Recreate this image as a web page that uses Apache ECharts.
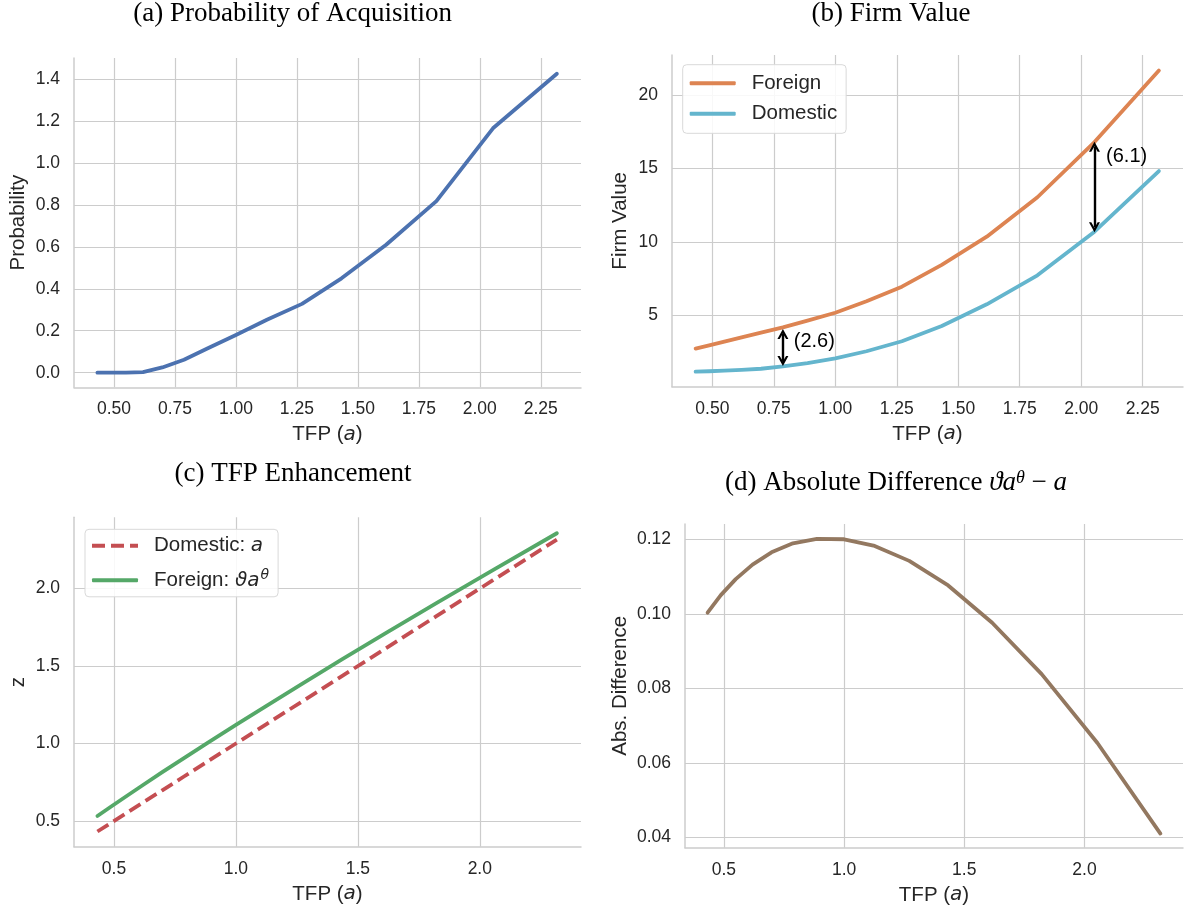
<!DOCTYPE html>
<html><head><meta charset="utf-8">
<script src="https://cdn.jsdelivr.net/npm/echarts@6/dist/echarts.min.js"></script>
<style>html,body{margin:0;padding:0;background:#fff}#c{width:1192px;height:911px}</style>
</head><body><div id="c"></div>
<script>
// ---- data ----
const tfp = [0.432, 0.487, 0.549, 0.619, 0.698, 0.787, 0.887, 1.000, 1.127, 1.271, 1.433, 1.616, 1.822, 2.054, 2.316];
const probability = [0.000, 0.000, 0.000, 0.003, 0.025, 0.062, 0.118, 0.180, 0.252, 0.328, 0.450, 0.610, 0.818, 1.165, 1.425];
const firmForeign = [2.76, 2.98, 3.23, 3.52, 3.85, 4.20, 4.66, 5.20, 5.98, 6.97, 8.45, 10.37, 13.05, 16.80, 21.66];
const firmDomestic = [1.19, 1.22, 1.26, 1.31, 1.39, 1.55, 1.78, 2.09, 2.58, 3.26, 4.30, 5.77, 7.74, 10.71, 14.83];
const zDomestic = [0.432, 0.487, 0.549, 0.619, 0.698, 0.787, 0.887, 1.000, 1.127, 1.271, 1.433, 1.616, 1.822, 2.054, 2.316];
const zForeign = [0.532, 0.592, 0.658, 0.732, 0.815, 0.906, 1.007, 1.120, 1.245, 1.385, 1.541, 1.714, 1.906, 2.119, 2.357];
const absDiff = [0.1003, 0.1050, 0.1093, 0.1132, 0.1165, 0.1189, 0.1201, 0.1200, 0.1182, 0.1142, 0.1076, 0.0976, 0.0838, 0.0653, 0.0410];

const xTicksFine = [0.5, 0.75, 1.0, 1.25, 1.5, 1.75, 2.0, 2.25];
const xTicksCoarse = [0.5, 1.0, 1.5, 2.0];
const yTicksA = [0, 0.2, 0.4, 0.6, 0.8, 1.0, 1.2, 1.4];
const yTicksB = [5, 10, 15, 20];
const yTicksC = [0.5, 1.0, 1.5, 2.0];
const yTicksD = [0.04, 0.06, 0.08, 0.10, 0.12];

const arrowX = [0.787, 2.054];
const arrowTop = [3.76, 16.49];
const arrowBottom = [1.92, 11.01];
const arrowLabels = ['(2.6)', '(6.1)'];
const arrowLabelX = [0.829, 2.099];
const arrowLabelY = [3.23, 15.85];

// ---- styles ----
const SANS = '"Liberation Sans", Arial, sans-serif';
const SERIF = '"Liberation Serif", "Times New Roman", serif';
const MATH = '"DejaVu Sans", sans-serif';
const GRID = '#cccccc';
const TXT = '#262626';
const LW = 3.8;

const pairs = (xs, ys) => xs.map((x, i) => [x, ys[i]]);

function xAxis(gi, min, max, ticks, dec) {
  return {
    type: 'value', gridIndex: gi, min: min, max: max,
    axisLine: { show: true, onZero: false, lineStyle: { color: GRID, width: 1.5 } },
    axisTick: { show: false, customValues: ticks },
    axisLabel: { customValues: ticks, formatter: v => Number(v).toFixed(dec), color: TXT, fontSize: 17.5, fontFamily: SANS, margin: 13 },
    splitLine: { show: true, lineStyle: { color: GRID, width: 1.2 } },
    name: 'TFP ({i|a})', nameLocation: 'middle', nameGap: 37,
    nameTextStyle: { color: TXT, fontSize: 20.5, fontFamily: SANS,
      rich: { i: { fontStyle: 'italic', fontFamily: MATH, fontSize: 20, color: TXT } } }
  };
}
function yAxis(gi, min, max, ticks, dec, name, gap) {
  return {
    type: 'value', gridIndex: gi, min: min, max: max,
    axisLine: { show: true, onZero: false, lineStyle: { color: GRID, width: 1.5 } },
    axisTick: { show: false, customValues: ticks },
    axisLabel: { customValues: ticks, formatter: v => Number(v).toFixed(dec), color: TXT, fontSize: 17.5, fontFamily: SANS, margin: 14 },
    splitLine: { show: true, lineStyle: { color: GRID, width: 1.2 } },
    name: name, nameLocation: 'middle', nameGap: gap, nameRotate: 90,
    nameTextStyle: { color: TXT, fontSize: 20.5, fontFamily: SANS }
  };
}
const lineSeries = (name, gi, xs, ys, color, extra) => Object.assign({
  type: 'line', name: name, xAxisIndex: gi, yAxisIndex: gi,
  data: pairs(xs, ys), symbol: 'none', showSymbol: false, silent: true,
  lineStyle: { color: color, width: LW, cap: 'round', join: 'round' },
  itemStyle: { color: color }
}, extra || {});

const CHEV = 'path://M0,10 L5,0 L10,10 L7.9,10 L5,4.6 L2.1,10 Z';
const ICON_SOLID = 'roundRect';
const ICON_DASH = 'path://M0,0h13v4h-13z M19,0h13v4h-13z M38,0h8v4h-8z';

const titleStyle = { fontFamily: SERIF, fontSize: 27, fontWeight: 'normal', color: '#000',
  rich: {
    m: { fontFamily: SERIF, fontStyle: 'italic', fontSize: 27, color: '#000' },
    sup: { fontFamily: SERIF, fontStyle: 'italic', fontSize: 18, color: '#000', verticalAlign: 'top', padding: [0, 0, 8, 0] },
    n: { fontFamily: SERIF, fontSize: 27, color: '#000' }
  } };
const mkTitle = (text, left, top) => ({ text: text, left: left, top: top, textAlign: 'center', padding: 0, textStyle: titleStyle });

const legendNames = {
  'Domestic: a': 'Domestic: {i|a}',
  'Foreign: ϑa^θ': 'Foreign: {i|ϑa}{sup|θ}'
};

const legendBase = {
  orient: 'vertical', itemWidth: 46, itemHeight: 4,
  backgroundColor: 'rgba(255,255,255,0.85)', borderColor: '#d9d9d9', borderWidth: 1, borderRadius: 4
};

const chart = echarts.init(document.getElementById('c'), null, { renderer: 'canvas' });
chart.setOption({
  animation: false,
  backgroundColor: '#ffffff',
  title: [
    mkTitle('(a) Probability of Acquisition', 292.7, 0.5),
    mkTitle('(b) Firm Value', 891, 0.5),
    mkTitle('(c) TFP Enhancement', 293, 460.5),
    mkTitle('(d) Absolute Difference {m|ϑa}{sup|θ}{n| − }{m|a}', 896, 469)
  ],
  grid: [
    { left: 74, top: 58, width: 507, height: 329.3 },
    { left: 672, top: 55, width: 511, height: 331.7 },
    { left: 74, top: 517.3, width: 507, height: 329.4 },
    { left: 685, top: 524, width: 498, height: 323.7 }
  ],
  xAxis: [
    xAxis(0, 0.336, 2.415, xTicksFine, 2),
    xAxis(1, 0.336, 2.414, xTicksFine, 2),
    xAxis(2, 0.336, 2.415, xTicksCoarse, 1),
    xAxis(3, 0.338, 2.41, xTicksCoarse, 1)
  ],
  yAxis: [
    yAxis(0, -0.0697, 1.5002, yTicksA, 1, 'Probability', 45),
    yAxis(1, 0.17, 22.72, yTicksB, 0, 'Firm Value', 41),
    yAxis(2, 0.334, 2.46, yTicksC, 1, 'z', 45),
    yAxis(3, 0.0372, 0.1241, yTicksD, 2, 'Abs. Difference', 54)
  ],
  legend: [
    Object.assign({}, legendBase, {
      data: [{ name: 'Foreign', icon: ICON_SOLID }, { name: 'Domestic', icon: ICON_SOLID }],
      left: 682.7, top: 64.7,
      padding: [8, 9, 9, 7], itemGap: 9.6,
      textStyle: { fontSize: 20.5, color: TXT, fontFamily: SANS, padding: [0, 0, 0, 11] } }),
    Object.assign({}, legendBase, {
      data: [{ name: 'Domestic: a', icon: ICON_DASH }, { name: 'Foreign: ϑa^θ', icon: ICON_SOLID }],
      left: 85, top: 529.3,
      padding: [6, 9, 6, 7], itemGap: 12,
      formatter: n => legendNames[n] || n,
      textStyle: { fontSize: 20.5, color: TXT, fontFamily: SANS, padding: [0, 0, 0, 11],
        rich: { i: { fontStyle: 'italic', fontFamily: MATH, fontSize: 20, color: TXT },
                sup: { fontStyle: 'italic', fontFamily: MATH, fontSize: 14, color: TXT, verticalAlign: 'top', padding: [0, 0, 10, 1] } } } })
  ],
  series: [
    lineSeries('Probability', 0, tfp, probability, '#4C72B0'),
    lineSeries('Foreign', 1, tfp, firmForeign, '#DD8452'),
    lineSeries('Domestic', 1, tfp, firmDomestic, '#64B5CD'),
    {
      type: 'scatter', name: 'gap', xAxisIndex: 1, yAxisIndex: 1, silent: true,
      symbolSize: 1, itemStyle: { color: 'rgba(0,0,0,0)' },
      data: arrowLabelX.map((x, i) => ({ value: [x, arrowLabelY[i]], label: { formatter: arrowLabels[i] } })),
      label: { show: true, position: 'right', distance: 0, fontSize: 20, color: '#000', opacity: 1, fontFamily: SANS, textBorderWidth: 0 },
      markLine: {
        silent: true, animation: false, symbol: [CHEV, CHEV], symbolSize: [11, 10],
        lineStyle: { color: '#000', width: 2.4, type: 'solid', opacity: 1 }, label: { show: false }, emphasis: { disabled: true },
        data: arrowX.map((x, i) => [{ coord: [x, arrowTop[i]] }, { coord: [x, arrowBottom[i]] }])
      }
    },
    lineSeries('Domestic: a', 2, tfp, zDomestic, '#C44E52', { lineStyle: { color: '#C44E52', width: LW, type: [13, 6], cap: 'butt' } }),
    lineSeries('Foreign: ϑa^θ', 2, tfp, zForeign, '#55A868'),
    lineSeries('Abs. Difference', 3, tfp, absDiff, '#937860')
  ]
});
</script>
</body></html>
